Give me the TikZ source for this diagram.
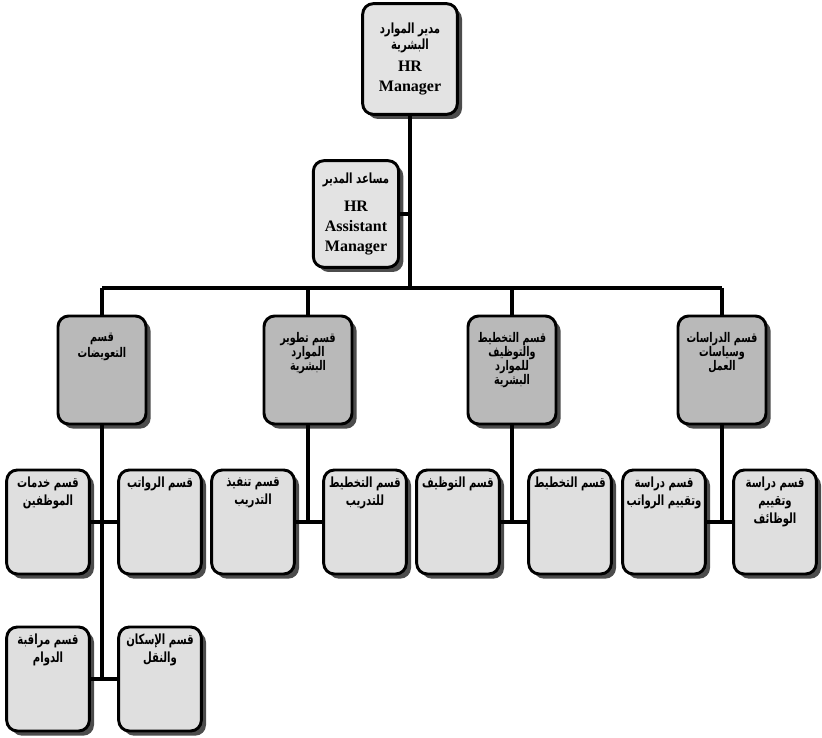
\documentclass[tikz,border=0pt]{standalone}
\usepackage{fontspec}
\setmainfont{Liberation Serif}
\newfontfamily\arabicfont[Script=Arabic, FakeStretch=0.72]{DejaVu Sans}
\TeXXeTstate=1
\usetikzlibrary{shadows}

\newcommand\arline[1]{\leavevmode\hbox to 58pt{\hss\arabicfont\beginR #1\endR\hss}}
\newcommand\hrtext[1]{{\fontsize{12}{15}\selectfont #1}}
\newcommand\toptext[3]{\parbox[c][#1][t]{58pt}{\centering\lineskiplimit=-5pt\lineskip=0pt\vspace*{#2}#3}}

\tikzset{
  unit/.style={draw, line width=2.2pt, rounded corners=8pt, fill=gray!22,
    drop shadow={shadow xshift=3.5pt, shadow yshift=-3.5pt, fill=black!70, opacity=1},
    inner sep=2pt, align=center, font=\bfseries\fontsize{10.5}{15}\selectfont},
  dept/.style={unit, fill=gray!55, minimum width=66pt, minimum height=81pt,
    font=\bfseries\fontsize{10}{10.5}\selectfont},
  subunit/.style={unit, fill=gray!25, minimum width=62pt, minimum height=78pt,
    font=\bfseries\fontsize{10.5}{13.5}\selectfont},
  link/.style={line width=3pt}
}

\begin{document}
\begin{tikzpicture}[x=0.75pt, y=-0.75pt]
  \useasboundingbox (0,0) rectangle (822,738);

  % manager and assistant
  \node[unit, minimum width=71pt, minimum height=83pt] (hr) at (410,59)
    {\arline{مدير الموارد}\\[-3pt] \arline{البشرية}\\[2pt] \hrtext{HR}\\ \hrtext{Manager}};
  \node[unit, minimum width=64pt, minimum height=80pt] (asst) at (356,214)
    {\arline{مساعد المدير}\\[6pt] \hrtext{HR}\\ \hrtext{Assistant}\\ \hrtext{Manager}};

  % departments
  \node[dept] (comp) at (102,370)
    {\toptext{76pt}{10pt}{\arline{قسم}\\[2pt] \arline{التعويضات}}};
  \node[dept] (dev) at (308,370)
    {\toptext{76pt}{10pt}{\arline{قسم تطوير}\\ \arline{الموارد}\\ \arline{البشرية}}};
  \node[dept] (plan) at (512,370)
    {\toptext{76pt}{10pt}{\arline{قسم التخطيط}\\ \arline{والتوظيف}\\ \arline{للموارد}\\ \arline{البشرية}}};
  \node[dept] (study) at (722,370)
    {\toptext{76pt}{10pt}{\arline{قسم الدراسات}\\ \arline{وسياسات}\\ \arline{العمل}}};

  % sections, first row
  \node[subunit] (serv) at (48,522)
    {\toptext{73pt}{3pt}{\arline{قسم خدمات}\\ \arline{الموظفين}}};
  \node[subunit] (sal) at (160,522)
    {\toptext{73pt}{3pt}{\arline{قسم الرواتب}}};
  \node[subunit] (exec) at (253,522)
    {\toptext{73pt}{3pt}{\arline{قسم تنفيذ}\\ \arline{التدريب}}};
  \node[subunit] (trplan) at (365,522)
    {\toptext{73pt}{3pt}{\arline{قسم التخطيط}\\ \arline{للتدريب}}};
  \node[subunit] (recr) at (458,522)
    {\toptext{73pt}{3pt}{\arline{قسم التوظيف}}};
  \node[subunit] (hrplan) at (570,522)
    {\toptext{73pt}{3pt}{\arline{قسم التخطيط}}};
  \node[subunit] (salst) at (664,522)
    {\toptext{73pt}{3pt}{\arline{قسم دراسة}\\ \arline{وتقييم الرواتب}}};
  \node[subunit] (jobst) at (775,522)
    {\toptext{73pt}{3pt}{\arline{قسم دراسة}\\ \arline{وتقييم}\\ \arline{الوظائف}}};

  % sections, second row
  \node[subunit] (att) at (48,679)
    {\toptext{73pt}{3pt}{\arline{قسم مراقبة}\\ \arline{الدوام}}};
  \node[subunit] (trans) at (160,679)
    {\toptext{73pt}{3pt}{\arline{قسم الإسكان}\\ \arline{والنقل}}};

  % connectors
  \coordinate (bus) at (410,288);
  \draw[link] (hr.south) -- (bus);
  \draw[link] (asst.east) -- (asst.east -| hr.south);
  \draw[link] (comp.north |- bus) -- (study.north |- bus);
  \foreach \d in {comp,dev,plan,study}
  {
    \draw[link] (\d.north |- bus) -- (\d.north);
  }

  \draw[link] (comp.south) -- (comp.south |- att.east);
  \draw[link] (serv.east) -- (sal.west);
  \draw[link] (att.east) -- (trans.west);
  \draw[link] (dev.south) -- (dev.south |- exec.east);
  \draw[link] (exec.east) -- (trplan.west);
  \draw[link] (plan.south) -- (plan.south |- recr.east);
  \draw[link] (recr.east) -- (hrplan.west);
  \draw[link] (study.south) -- (study.south |- salst.east);
  \draw[link] (salst.east) -- (jobst.west);

\end{tikzpicture}
\end{document}
